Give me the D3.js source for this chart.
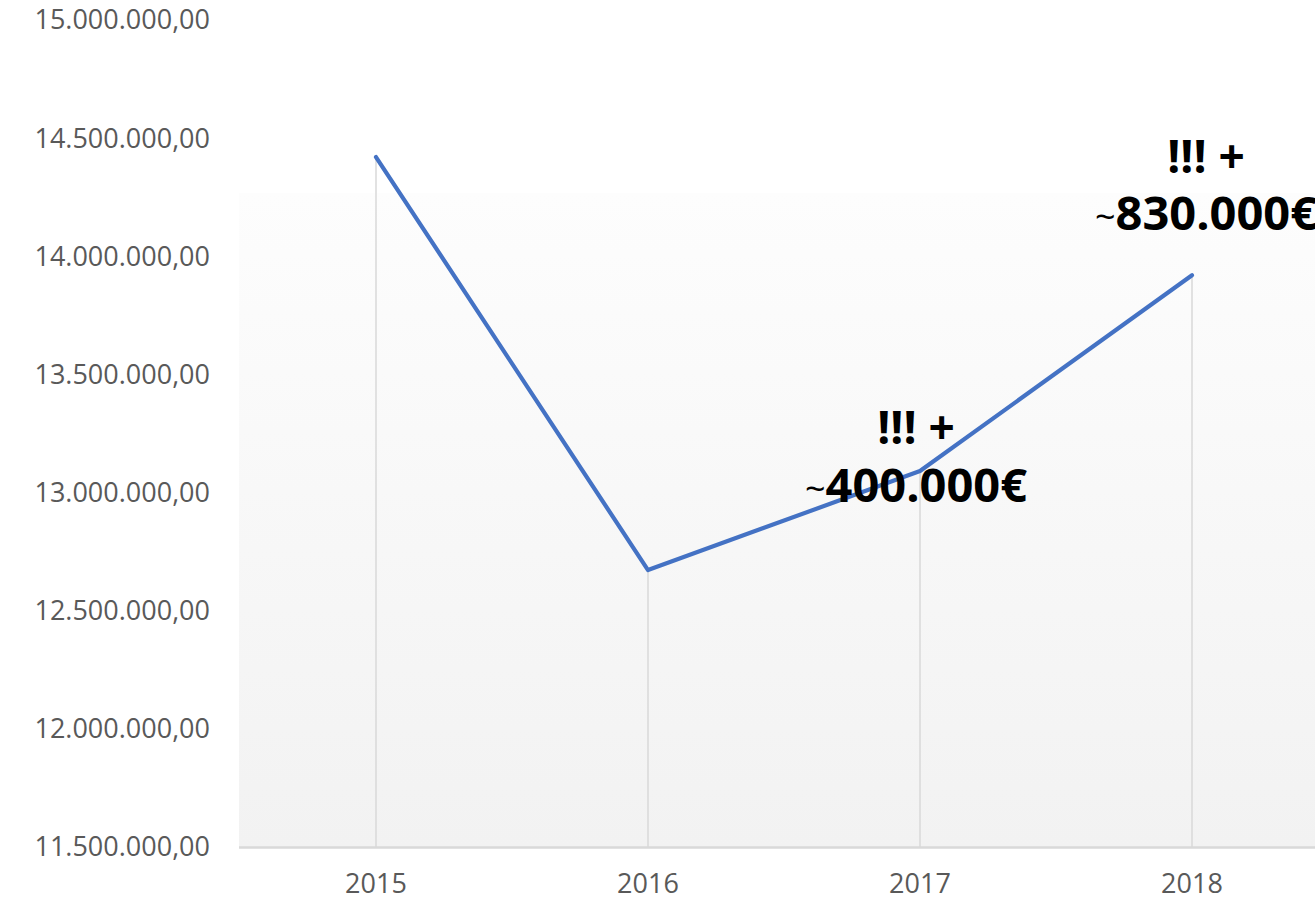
<!DOCTYPE html>
<html>
<head>
<meta charset="utf-8">
<script src="https://cdn.jsdelivr.net/npm/d3@7"></script>
<style>
  body { margin: 0; background: #fff; overflow: hidden; }
  text { font-family: "Open Sans", sans-serif; }
</style>
</head>
<body>
<svg></svg>
<script>
const width = 1315;
const height = 902;

// data
const years = ['2015', '2016', '2017', '2018'];
const totals = [14420000, 12672000, 13091000, 13920000];
const yTicks = [11500000, 12000000, 12500000, 13000000, 13500000, 14000000, 14500000, 15000000];
const notes = [null, null, '400.000€', '830.000€'];

const svg = d3.select('svg')
    .attr('width', width).attr('height', height);

const x = d3.scaleBand()
    .domain(years)
    .range([240, 1328]);

const y = d3.scaleLinear()
    .domain([11500000, 15000000])
    .range([847, 20]);

const fmt = d3.formatLocale({decimal: ',', thousands: '.', grouping: [3], currency: ['', '€']}).format(',.2f');

// plot background with soft gradient
const defs = svg.append('defs');
const grad = defs.append('linearGradient')
    .attr('id', 'bg').attr('x1', 0).attr('y1', 0).attr('x2', 0).attr('y2', 1);
grad.append('stop').attr('offset', '0%').attr('stop-color', '#fdfdfd');
grad.append('stop').attr('offset', '100%').attr('stop-color', '#f2f2f2');

svg.append('rect')
    .attr('x', 239).attr('y', 193)
    .attr('width', 1328 - 239).attr('height', 847 - 193)
    .attr('fill', 'url(#bg)');

// y labels
svg.append('g')
  .selectAll('text')
  .data(yTicks)
  .enter().append('text')
    .attr('x', 210)
    .attr('y', d => y(d))
    .attr('dy', '0.35em')
    .attr('text-anchor', 'end')
    .attr('font-size', 27)
    .attr('fill', '#595959')
    .text(d => fmt(d));

// drop lines
svg.append('g')
  .selectAll('line')
  .data(years)
  .enter().append('line')
    .attr('x1', d => x(d) + x.bandwidth() / 2)
    .attr('x2', d => x(d) + x.bandwidth() / 2)
    .attr('y1', (d, i) => y(totals[i]))
    .attr('y2', 847)
    .attr('stroke', '#d9d9d9')
    .attr('stroke-width', 1.5);

// x axis line
svg.append('line')
    .attr('x1', 239).attr('x2', 1328)
    .attr('y1', 847.5).attr('y2', 847.5)
    .attr('stroke', '#d9d9d9')
    .attr('stroke-width', 2.5);

// x labels
svg.append('g')
  .selectAll('text')
  .data(years)
  .enter().append('text')
    .attr('x', d => x(d) + x.bandwidth() / 2)
    .attr('y', 893)
    .attr('text-anchor', 'middle')
    .attr('font-size', 27)
    .attr('fill', '#595959')
    .text(d => d);

// the line
const line = d3.line()
    .x((d, i) => x(years[i]) + x.bandwidth() / 2)
    .y(d => y(d));

svg.append('path')
    .datum(totals)
    .attr('d', line)
    .attr('fill', 'none')
    .attr('stroke', '#4472c4')
    .attr('stroke-width', 4.2)
    .attr('stroke-linecap', 'round')
    .attr('stroke-linejoin', 'round');

// annotations
const noteShift = {2: [-4, -27, 31], 3: [14, -102, -45]}; // dx, baseline1 offset, baseline2 offset
notes.forEach((n, i) => {
  if (!n) return;
  const cx = x(years[i]) + x.bandwidth() / 2 + noteShift[i][0];
  const cy = y(totals[i]);
  svg.append('text')
      .attr('x', cx).attr('y', cy + noteShift[i][1])
      .attr('text-anchor', 'middle')
      .attr('font-size', 46)
      .attr('font-weight', 'bold')
      .attr('fill', '#000')
      .text('!!! +');
  const t = svg.append('text')
      .attr('x', cx).attr('y', cy + noteShift[i][2])
      .attr('text-anchor', 'middle')
      .attr('fill', '#000');
  t.append('tspan').attr('font-size', 36).text('~');
  t.append('tspan').attr('font-size', 47).attr('font-weight', 'bold').text(n);
});
</script>
</body>
</html>
